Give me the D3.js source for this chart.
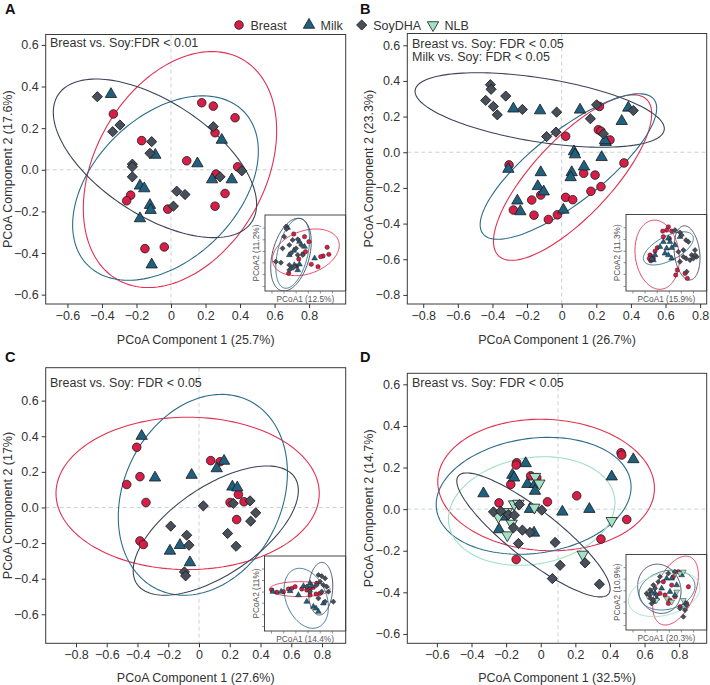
<!DOCTYPE html>
<html><head><meta charset="utf-8">
<script src="https://cdn.jsdelivr.net/npm/d3@7"></script>
<style>body{margin:0;background:#fff}svg{display:block}text{font-family:"Liberation Sans",Arial,Helvetica,sans-serif}</style>
</head><body><svg id="c" width="710" height="685"></svg>
<script>
// ---------- categories & styling ----------
const groups = ["Breast", "Milk", "SoyDHA", "NLB"];
const fillColors = {Breast:"#d81e47", Milk:"#1f6080", SoyDHA:"#474f5a", NLB:"#a3e2c6"};
const lineColors = {Breast:"#e2304f", Milk:"#2a6d8c", SoyDHA:"#3b4457", NLB:"#9fe0c4"};

// ---------- Panel A ----------
const A_breast = [[-0.334,0.268],[0.178,0.322],[0.245,0.306],[0.371,0.250],[-0.170,0.140],[0.255,0.178],[0.091,0.043],[0.386,0.014],[0.261,-0.021],[0.313,-0.114],[-0.234,-0.122],[-0.257,-0.149],[-0.019,-0.189],[0.255,-0.175],[-0.151,-0.379],[-0.039,-0.371]];
const A_milk = [[-0.348,0.363],[0.294,0.143],[-0.091,0.071],[0.153,0.030],[-0.180,-0.077],[-0.155,-0.090],[0.238,-0.047],[0.352,-0.047],[-0.122,-0.170],[-0.118,-0.194],[-0.180,-0.234],[-0.112,-0.456]];
const A_soy = [[-0.427,0.351],[-0.296,0.215],[-0.338,0.183],[-0.112,0.135],[-0.122,0.079],[-0.224,0.027],[-0.224,0.014],[-0.224,-0.034],[0.245,0.207],[0.284,-0.034],[0.410,-0.005],[0.033,-0.103],[0.081,-0.119],[0.014,-0.175]];
const A_ellipses = [
  {g:"Breast", cx:0.052, cy:0.001, ax:0.560, by:0.567, r:0.33},
  {g:"Milk", cx:-0.032, cy:-0.088, ax:0.538, by:0.443, r:0.40},
  {g:"SoyDHA", cx:-0.093, cy:0.055, ax:0.589, by:0.381, r:-0.58}];
const A_inBreast = [[0.356,0.750],[0.544,0.649],[0.770,0.575],[0.791,0.482],[0.720,0.461],[0.690,0.452],[0.469,0.487],[0.502,0.518],[0.418,0.421],[0.573,0.351],[0.293,0.232],[0.393,0.329],[0.490,0.715],[0.657,0.320]];
const A_inMilk = [[0.280,0.833],[0.427,0.649],[0.490,0.583],[0.356,0.531],[0.301,0.474],[0.364,0.342],[0.427,0.351],[0.615,0.430],[0.322,0.298],[0.406,0.276]];
const A_inSoy = [[0.259,0.846],[0.268,0.816],[0.238,0.715],[0.343,0.671],[0.406,0.680],[0.301,0.605],[0.218,0.561],[0.385,0.561],[0.322,0.496],[0.406,0.474],[0.134,0.386],[0.197,0.373],[0.301,0.342],[0.364,0.320],[0.301,0.276],[0.469,0.474],[0.448,0.605]];
const A_inEllipses = [
  {g:"Breast", cx:0.506, cy:0.509, ax:0.414, by:0.307, r:0.30},
  {g:"Milk", cx:0.343, cy:0.496, ax:0.209, by:0.460, r:0.40},
  {g:"SoyDHA", cx:0.322, cy:0.478, ax:0.251, by:0.478, r:0.35}];

// ---------- Panel B ----------
const B_breast = [[0.218,0.257],[0.212,0.126],[0.227,0.118],[0.279,0.069],[0.023,0.090],[0.360,-0.060],[-0.304,-0.071],[0.127,-0.118],[0.193,-0.128],[0.227,-0.193],[0.169,-0.219],[-0.121,-0.240],[-0.173,-0.268],[0.023,-0.253],[0.064,-0.266],[-0.279,-0.324],[-0.160,-0.353],[-0.077,-0.377],[-0.025,-0.351]];
const B_milk = [[-0.279,0.244],[-0.125,0.234],[0.106,0.238],[0.385,0.249],[0.347,0.174],[0.254,0.056],[0.250,0.066],[0.071,0.004],[0.077,-0.013],[0.231,-0.028],[0.129,-0.081],[-0.308,-0.094],[-0.121,-0.113],[0.058,-0.113],[0.052,-0.141],[-0.138,-0.191],[-0.104,-0.221],[-0.256,-0.272],[-0.239,-0.332],[0.010,-0.323]];
const B_soy = [[-0.412,0.379],[-0.408,0.353],[-0.439,0.291],[-0.323,0.315],[-0.395,0.257],[-0.372,0.210],[-0.227,0.240],[-0.029,0.225],[0.166,0.188],[0.202,0.266],[0.414,0.234],[0.241,0.103],[-0.087,0.088],[-0.033,0.113]];
const B_ellipses = [
  {g:"Breast", cx:0.063, cy:-0.142, ax:0.457, by:0.464, r:0.77},
  {g:"Milk", cx:0.039, cy:-0.080, ax:0.510, by:0.408, r:0.80},
  {g:"SoyDHA", cx:-0.127, cy:0.237, ax:0.720, by:0.209, r:-0.50}];
const B_inBreast = [[0.525,0.839],[0.504,0.796],[0.455,0.783],[0.566,0.783],[0.298,0.470],[0.318,0.448],[0.339,0.426],[0.289,0.426],[0.306,0.396],[0.360,0.522],[0.388,0.565],[0.636,0.274],[0.616,0.209],[0.731,0.230],[0.760,0.165],[0.463,0.709],[0.537,0.687]];
const B_inMilk = [[0.525,0.687],[0.463,0.643],[0.545,0.643],[0.421,0.578],[0.504,0.557],[0.566,0.565],[0.483,0.491],[0.525,0.470],[0.339,0.404],[0.360,0.470],[0.318,0.417],[0.566,0.426],[0.607,0.600],[0.669,0.709]];
const B_inSoy = [[0.607,0.796],[0.669,0.765],[0.690,0.730],[0.744,0.665],[0.773,0.643],[0.855,0.535],[0.814,0.470],[0.744,0.426],[0.711,0.448],[0.793,0.404],[0.669,0.383],[0.752,0.252],[0.835,0.426],[0.876,0.448],[0.649,0.513],[0.711,0.535],[0.855,0.470]];
const B_inEllipses = [
  {g:"Breast", cx:0.386, cy:0.474, ax:0.275, by:0.452, r:-0.12},
  {g:"Milk", cx:0.525, cy:0.557, ax:0.310, by:0.217, r:0.60},
  {g:"SoyDHA", cx:0.756, cy:0.498, ax:0.161, by:0.354, r:-0.20}];

// ---------- Panel C ----------
const C_breast = [[-0.405,0.338],[-0.384,0.173],[-0.470,0.129],[-0.345,0.028],[-0.384,-0.188],[-0.362,-0.208],[0.076,0.263],[0.137,0.257],[0.256,0.073],[0.202,0.028],[0.293,0.032],[0.245,-0.068]];
const C_milk = [[-0.373,0.401],[-0.286,0.167],[-0.048,0.182],[0.163,0.261],[0.115,0.219],[0.217,0.116],[0.249,0.111],[-0.189,-0.244],[-0.124,-0.212],[-0.059,-0.309]];
const C_soy = [[0.028,0.009],[0.223,0.023],[0.332,0.037],[0.369,-0.030],[0.336,-0.077],[-0.184,-0.105],[-0.080,-0.156],[-0.065,-0.212],[0.186,-0.146],[0.241,-0.218],[-0.095,-0.362],[-0.087,-0.384]];
const C_ellipses = [
  {g:"Breast", cx:-0.074, cy:0.079, ax:0.856, by:0.428, r:0.0},
  {g:"Milk", cx:0.025, cy:0.071, ax:0.550, by:0.564, r:0.22},
  {g:"SoyDHA", cx:0.109, cy:-0.130, ax:0.537, by:0.363, r:0.62}];
const C_inBreast = [[0.090,0.547],[0.152,0.516],[0.234,0.524],[0.295,0.560],[0.336,0.569],[0.377,0.591],[0.459,0.560],[0.520,0.547],[0.561,0.556],[0.602,0.582],[0.643,0.636],[0.684,0.502],[0.635,0.493],[0.561,0.480]];
const C_inMilk = [[0.102,0.524],[0.205,0.524],[0.316,0.533],[0.418,0.480],[0.520,0.391],[0.602,0.324],[0.635,0.302],[0.664,0.258],[0.725,0.369],[0.561,0.636],[0.582,0.600],[0.480,0.600]];
const C_inSoy = [[0.664,0.747],[0.705,0.733],[0.746,0.702],[0.684,0.658],[0.643,0.613],[0.725,0.613],[0.766,0.591],[0.787,0.524],[0.705,0.524],[0.664,0.436],[0.746,0.391],[0.848,0.391],[0.520,0.591],[0.561,0.524]];
const C_inEllipses = [
  {g:"Breast", cx:0.434, cy:0.558, ax:0.373, by:0.100, r:0.0},
  {g:"Milk", cx:0.514, cy:0.436, ax:0.273, by:0.400, r:-0.30},
  {g:"SoyDHA", cx:0.691, cy:0.564, ax:0.150, by:0.351, r:0.10}];

// ---------- Panel D ----------
const D_breast = [[-0.139,0.223],[-0.142,0.212],[-0.058,0.160],[-0.023,0.151],[-0.173,0.119],[-0.241,0.030],[0.039,0.035],[0.208,0.064],[0.464,0.271],[0.468,0.260],[0.497,-0.050],[0.348,-0.144],[-0.142,-0.242]];
const D_milk = [[-0.087,0.220],[-0.164,0.164],[-0.154,0.151],[-0.077,0.120],[-0.033,0.120],[-0.033,0.087],[-0.331,0.075],[0.535,0.239],[0.410,0.156],[-0.062,0.000],[0.125,-0.013],[0.281,0.000],[-0.241,-0.098],[-0.039,-0.114],[-0.216,-0.037]];
const D_soy = [[-0.273,-0.013],[-0.231,-0.010],[-0.187,-0.026],[-0.123,0.022],[-0.152,-0.029],[-0.158,-0.090],[-0.106,-0.101],[-0.062,-0.112],[-0.129,-0.165],[0.006,-0.005],[0.083,-0.160],[0.112,-0.270],[0.067,-0.334],[0.256,-0.258],[0.339,-0.361]];
const D_nlb = [[-0.033,0.156],[-0.008,0.124],[-0.154,0.024],[-0.129,0.027],[-0.037,0.008],[-0.244,-0.037],[-0.168,-0.069],[-0.193,-0.125],[0.410,-0.056],[0.243,-0.218],[-0.196,-0.013]];
const D_ellipses = [
  {g:"Breast", cx:0.031, cy:0.116, ax:0.626, by:0.316, r:-0.05},
  {g:"Milk", cx:-0.041, cy:0.064, ax:0.563, by:0.281, r:0.15},
  {g:"NLB", cx:-0.052, cy:-0.009, ax:0.481, by:0.261, r:0.15},
  {g:"SoyDHA", cx:-0.042, cy:-0.124, ax:0.443, by:0.298, r:-0.87}];
const D_inBreast = [[0.649,0.771],[0.587,0.705],[0.773,0.573],[0.545,0.396],[0.525,0.352],[0.566,0.595],[0.421,0.485],[0.483,0.463],[0.607,0.441],[0.669,0.308],[0.752,0.352],[0.463,0.639]];
const D_inMilk = [[0.318,0.507],[0.360,0.485],[0.380,0.419],[0.504,0.683],[0.566,0.683],[0.628,0.595],[0.545,0.507],[0.607,0.463],[0.442,0.551],[0.731,0.352],[0.690,0.727],[0.339,0.374]];
const D_inSoy = [[0.256,0.485],[0.289,0.463],[0.306,0.419],[0.339,0.396],[0.318,0.352],[0.360,0.551],[0.339,0.595],[0.380,0.463],[0.401,0.639],[0.525,0.749],[0.607,0.771],[0.421,0.705],[0.752,0.330],[0.711,0.176],[0.731,0.264],[0.669,0.286],[0.298,0.529]];
const D_inNlb = [[0.607,0.749],[0.669,0.749],[0.711,0.771],[0.566,0.374],[0.711,0.396],[0.731,0.286],[0.504,0.419],[0.380,0.396],[0.277,0.441],[0.628,0.507]];
const D_inEllipses = [
  {g:"Breast", cx:0.614, cy:0.522, ax:0.283, by:0.456, r:0.45},
  {g:"SoyDHA", cx:0.413, cy:0.546, ax:0.269, by:0.326, r:-0.10},
  {g:"Milk", cx:0.508, cy:0.529, ax:0.347, by:0.264, r:0.20},
  {g:"NLB", cx:0.473, cy:0.474, ax:0.444, by:0.297, r:0.30}];

// ---------- tick labels / axis ranges ----------
const A_xTicks = [-0.6,-0.4,-0.2,0,0.2,0.4,0.6,0.8], A_yTicks = [-0.6,-0.4,-0.2,0,0.2,0.4,0.6];
const B_xTicks = [-0.8,-0.6,-0.4,-0.2,0,0.2,0.4,0.6,0.8], B_yTicks = [-0.8,-0.6,-0.4,-0.2,0,0.2,0.4,0.6];
const C_xTicks = [-0.8,-0.6,-0.4,-0.2,0,0.2,0.4,0.6,0.8], C_yTicks = [-0.6,-0.4,-0.2,0,0.2,0.4,0.6];
const D_xTicks = [-0.6,-0.4,-0.2,0,0.2,0.4,0.6,0.8], D_yTicks = [-0.6,-0.4,-0.2,0,0.2,0.4,0.6];
const insetXTicks = [0.08,0.23,0.38,0.53,0.68,0.83], insetYTicks = [0.066,0.224,0.377,0.526,0.68,0.833];

const panels = [
  {id:"A", letter:[5,14], box:{l:45.7,r:345.7,t:34.5,b:304}, xd:[-0.726,1.012], yd:[-0.645,0.65], xt:A_xTicks, yt:A_yTicks, vline:0,
   xlab:"PCoA Component 1 (25.7%)", ylab:"PCoA Component 2 (17.6%)", xlabY:343.5, ylabX:11.5,
   note:["Breast vs. Soy:FDR < 0.01"], noteXY:[50,47], noteDy:13.5,
   pts:{Breast:A_breast, Milk:A_milk, SoyDHA:A_soy}, ell:A_ellipses,
   inset:{l:265,r:345.7,t:215,b:291, xlab:"PCoA1 (12.5%)", ylab:"PCoA2 (11.2%)", pts:{Breast:A_inBreast, Milk:A_inMilk, SoyDHA:A_inSoy}, ell:A_inEllipses}},
  {id:"B", letter:[360,14], box:{l:407.3,r:706.7,t:33.5,b:304}, xd:[-0.892,0.838], yd:[-0.851,0.666], xt:B_xTicks, yt:B_yTicks, vline:0,
   xlab:"PCoA Component 1 (26.7%)", ylab:"PCoA Component 2 (23.3%)", xlabY:343.5, ylabX:372.5,
   note:["Breast vs. Soy: FDR < 0.05","Milk vs. Soy: FDR < 0.05"], noteXY:[412,47.5], noteDy:13.3,
   pts:{Breast:B_breast, Milk:B_milk, SoyDHA:B_soy}, ell:B_ellipses,
   inset:{l:626,r:706.7,t:214.5,b:291, xlab:"PCoA1 (15.9%)", ylab:"PCoA2 (11.3%)", pts:{Breast:B_inBreast, Milk:B_inMilk, SoyDHA:B_inSoy}, ell:B_inEllipses}},
  {id:"C", letter:[5,362], box:{l:45.7,r:345.7,t:367.7,b:643.3}, xd:[-0.997,0.954], yd:[-0.763,0.785], xt:C_xTicks, yt:C_yTicks, vline:0,
   xlab:"PCoA Component 1 (27.6%)", ylab:"PCoA Component 2 (17%)", xlabY:681.5, ylabX:11.5,
   note:["Breast vs. Soy: FDR < 0.05"], noteXY:[50,386.5], noteDy:13.3,
   pts:{Breast:C_breast, Milk:C_milk, SoyDHA:C_soy}, ell:C_ellipses,
   inset:{l:264.5,r:345.7,t:556,b:631, xlab:"PCoA1 (14.4%)", ylab:"PCoA2 (11%)", pts:{Breast:C_inBreast, Milk:C_inMilk, SoyDHA:C_inSoy}, ell:C_inEllipses}},
  {id:"D", letter:[360,362], box:{l:407.3,r:706.7,t:373.3,b:643.3}, xd:[-0.771,0.959], yd:[-0.645,0.653], xt:D_xTicks, yt:D_yTicks, vline:0.1,
   xlab:"PCoA Component 1 (32.5%)", ylab:"PCoA Component 2 (14.7%)", xlabY:681.5, ylabX:372.5,
   note:["Breast vs. Soy: FDR < 0.05"], noteXY:[412,387], noteDy:13.3,
   pts:{Breast:D_breast, Milk:D_milk, NLB:D_nlb, SoyDHA:D_soy}, ell:D_ellipses,
   inset:{l:626,r:706.7,t:554.5,b:630, xlab:"PCoA1 (20.3%)", ylab:"PCoA2 (10.9%)", pts:{Breast:D_inBreast, Milk:D_inMilk, NLB:D_inNlb, SoyDHA:D_inSoy}, ell:D_inEllipses}}
];

const svg = d3.select("#c");
const TXT = "#333333";
const symType = {Breast:d3.symbolCircle, Milk:d3.symbolTriangle, SoyDHA:d3.symbolSquare, NLB:d3.symbolTriangle};
const symRot = {Breast:0, Milk:0, SoyDHA:45, NLB:180};
const symArea = {Breast:58, Milk:56, SoyDHA:52, NLB:56};

function symPath(g, k){ return d3.symbol(symType[g], symArea[g]*k)(); }

function drawPoints(layer, pts, g, xs, ys, k, sw){
  layer.selectAll(null).data(pts).join("path")
    .attr("d", symPath(g, k))
    .attr("transform", d => `translate(${xs(d[0])},${ys(d[1])}) rotate(${symRot[g]})`)
    .attr("fill", fillColors[g]).attr("stroke", "#1b1b1b").attr("stroke-width", sw);
}

function ellipsePoints(e){
  const phi = Math.acos(e.r);
  return d3.range(0, 160).map(i => { const t = i/160*2*Math.PI; return [e.cx + e.ax*Math.cos(t), e.cy + e.by*Math.cos(t - phi)]; });
}

function drawEllipses(layer, ells, xs, ys, sw){
  const line = d3.line().x(d => xs(d[0])).y(d => ys(d[1])).curve(d3.curveLinearClosed);
  layer.selectAll(null).data(ells).join("path")
    .attr("d", e => line(ellipsePoints(e)))
    .attr("fill", "none").attr("stroke", e => lineColors[e.g]).attr("stroke-width", sw);
}

const fmtY = d => d3.format(".1f")(d).replace("-", "\u2212").replace("−", "\u2212");
const fmtX = d => d === 0 ? "0" : d3.format(".1f")(d);

panels.forEach(p => {
  const b = p.box;
  const xs = d3.scaleLinear().domain(p.xd).range([b.l, b.r]);
  const ys = d3.scaleLinear().domain(p.yd).range([b.b, b.t]);
  const g = svg.append("g");
  const clipId = "clip" + p.id;
  svg.append("clipPath").attr("id", clipId).append("rect").attr("x", b.l).attr("y", b.t).attr("width", b.r-b.l).attr("height", b.b-b.t);
  const inner = g.append("g").attr("clip-path", `url(#${clipId})`);
  // reference lines
  inner.append("line").attr("x1", xs(p.vline)).attr("x2", xs(p.vline)).attr("y1", b.t).attr("y2", b.b)
    .attr("stroke", "#c9d2d2").attr("stroke-dasharray", "4,3").attr("stroke-width", 1);
  inner.append("line").attr("x1", b.l).attr("x2", b.r).attr("y1", ys(0)).attr("y2", ys(0))
    .attr("stroke", "#c9d2d2").attr("stroke-dasharray", "4,3").attr("stroke-width", 1);
  drawEllipses(inner, p.ell, xs, ys, 1.1);
  Object.keys(p.pts).forEach(k => drawPoints(inner, p.pts[k], k, xs, ys, 1, 0.8));
  // note
  p.note.forEach((t, i) => g.append("text").attr("x", p.noteXY[0]).attr("y", p.noteXY[1] + i*p.noteDy)
    .attr("font-size", 12.5).attr("fill", TXT).text(t));

  // inset
  const ins = p.inset;
  const ixs = d3.scaleLinear().domain([0,1]).range([ins.l, ins.r]);
  const iys = d3.scaleLinear().domain([0,1]).range([ins.b, ins.t]);
  const ig = g.append("g");
  ig.append("rect").attr("x", ins.l).attr("y", ins.t).attr("width", ins.r-ins.l).attr("height", ins.b-ins.t).attr("fill", "#fff");
  const iclip = "iclip" + p.id;
  svg.append("clipPath").attr("id", iclip).append("rect").attr("x", ins.l).attr("y", ins.t).attr("width", ins.r-ins.l).attr("height", ins.b-ins.t);
  const iin = ig.append("g").attr("clip-path", `url(#${iclip})`);
  drawEllipses(iin, ins.ell, ixs, iys, 0.9);
  Object.keys(ins.pts).forEach(k => drawPoints(iin, ins.pts[k], k, ixs, iys, 0.26, 0.45));
  ig.append("rect").attr("x", ins.l).attr("y", ins.t).attr("width", ins.r-ins.l).attr("height", ins.b-ins.t)
    .attr("fill", "none").attr("stroke", "#333").attr("stroke-width", 0.9);
  const iax = ig.append("g").attr("transform", `translate(0,${ins.b})`).call(d3.axisBottom(ixs).tickValues(insetXTicks).tickSize(2.5).tickFormat(""));
  const iay = ig.append("g").attr("transform", `translate(${ins.l},0)`).call(d3.axisLeft(iys).tickValues(insetYTicks).tickSize(2.5).tickFormat(""));
  [iax, iay].forEach(a => { a.select(".domain").remove(); a.selectAll("line").attr("stroke", "#666").attr("stroke-width", 0.7); });
  ig.append("text").attr("x", (ins.l+ins.r)/2).attr("y", ins.b + 10.5).attr("text-anchor", "middle")
    .attr("font-size", 8.3).attr("fill", "#555").text(ins.xlab);
  ig.append("text").attr("transform", `translate(${ins.l - 6},${(ins.t+ins.b)/2}) rotate(-90)`).attr("text-anchor", "middle")
    .attr("font-size", 8.3).attr("fill", "#555").text(ins.ylab);

  // border
  g.append("rect").attr("x", b.l).attr("y", b.t).attr("width", b.r-b.l).attr("height", b.b-b.t)
    .attr("fill", "none").attr("stroke", "#3a3a3a").attr("stroke-width", 1);
  // axes
  const ax = g.append("g").attr("transform", `translate(0,${b.b})`)
    .call(d3.axisBottom(xs).tickValues(p.xt).tickFormat(fmtX).tickSize(4).tickPadding(3));
  const ay = g.append("g").attr("transform", `translate(${b.l},0)`)
    .call(d3.axisLeft(ys).tickValues(p.yt).tickFormat(fmtY).tickSize(4).tickPadding(3));
  [ax, ay].forEach(a => {
    a.select(".domain").remove();
    a.attr("font-family", null).attr("font-size", null);
    a.selectAll("line").attr("stroke", "#333");
    a.selectAll("text").attr("font-size", 12.5).attr("fill", TXT);
  });
  // axis titles
  g.append("text").attr("x", (b.l+b.r)/2).attr("y", p.xlabY).attr("text-anchor", "middle")
    .attr("font-size", 12.5).attr("fill", TXT).text(p.xlab);
  g.append("text").attr("transform", `translate(${p.ylabX},${(b.t+b.b)/2}) rotate(-90)`).attr("text-anchor", "middle")
    .attr("font-size", 12.5).attr("fill", TXT).text(p.ylab);
  // panel letter
  g.append("text").attr("x", p.letter[0]).attr("y", p.letter[1]).attr("font-size", 14.5).attr("font-weight", "bold")
    .attr("fill", "#111").text(p.id);
});

// legend
const legendX = [239, 309, 361.7, 433];
const leg = svg.append("g");
groups.forEach((gname, i) => {
  leg.append("path").attr("d", symPath(gname, 1))
    .attr("transform", `translate(${legendX[i]},25) rotate(${symRot[gname]})`)
    .attr("fill", fillColors[gname]).attr("stroke", "#1b1b1b").attr("stroke-width", 0.8);
  leg.append("text").attr("x", legendX[i] + 11.5).attr("y", 29.5).attr("font-size", 12.5).attr("fill", TXT).text(gname);
});
</script></body></html>
